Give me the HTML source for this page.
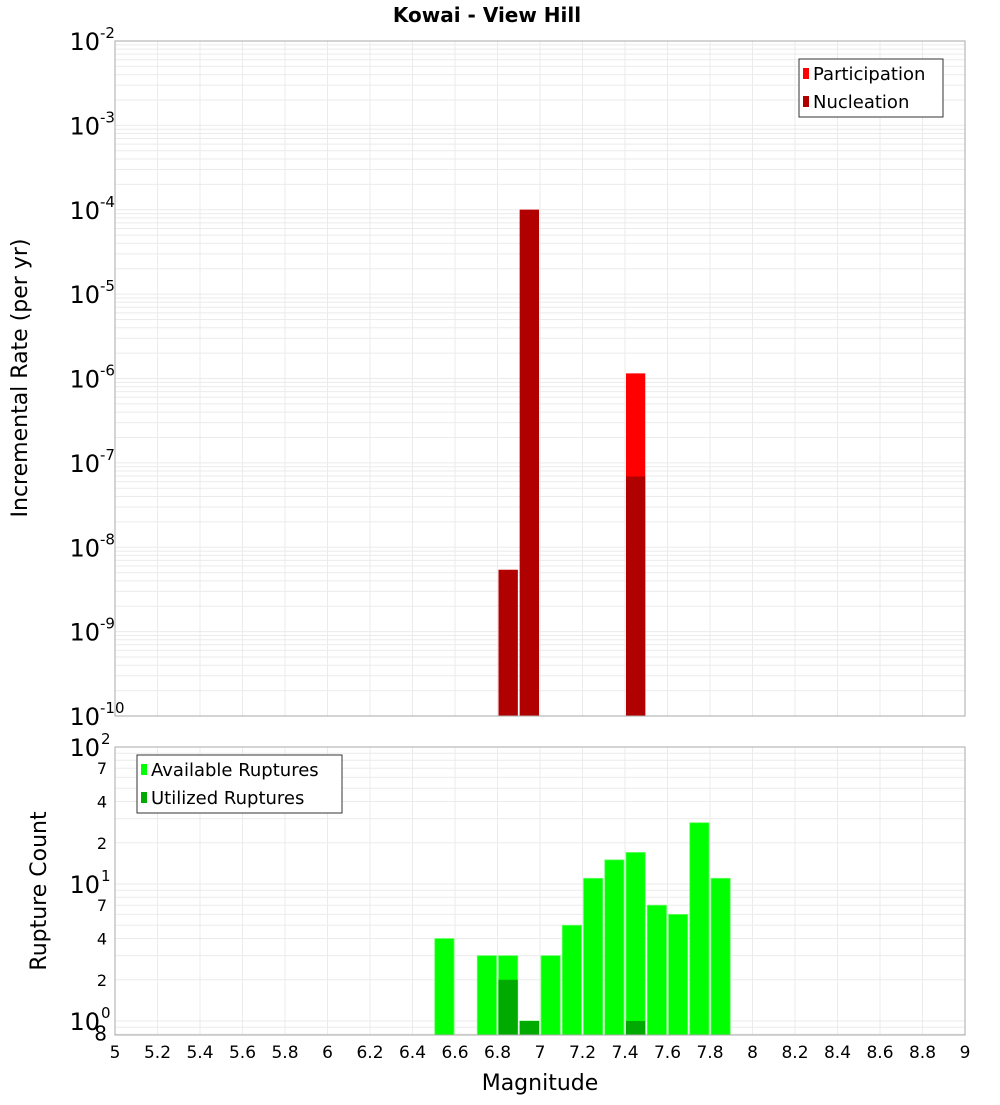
<!DOCTYPE html>
<html><head><meta charset="utf-8"><style>
body{margin:0;background:#fff;font-family:"Liberation Sans","DejaVu Sans",sans-serif}
svg text{font-family:"DejaVu Sans","Liberation Sans",sans-serif}
</style></head><body>
<svg id="c" width="1000" height="1100" xmlns="http://www.w3.org/2000/svg">
<rect width="1000" height="1100" fill="#fff"/>
<text x="487" y="22" font-size="20" font-weight="bold" text-anchor="middle">Kowai - View Hill</text>
<text transform="translate(27,378) rotate(-90)" font-size="22" text-anchor="middle">Incremental Rate (per yr)</text>
<text transform="translate(46,891) rotate(-90)" font-size="22" text-anchor="middle">Rupture Count</text>
<text x="540" y="1090" font-size="22" text-anchor="middle">Magnitude</text>
<g id="topPlot"></g>
<g id="botPlot"></g>
</svg>
<script>
const mags = [6.85, 6.95, 7.45];
const participation = [5.4e-9, 1.0e-4, 1.15e-6];
const nucleation = [5.4e-9, 1.0e-4, 6.9e-8];
const countMags = [6.55, 6.75, 6.85, 6.95, 7.05, 7.15, 7.25, 7.35, 7.45, 7.55, 7.65, 7.75, 7.85];
const available = [4, 3, 3, 1, 3, 5, 11, 15, 17, 7, 6, 28, 11];
const utilizedMags = [6.85, 6.95, 7.45];
const utilized = [2, 1, 1];
const xTicks = [5,5.2,5.4,5.6,5.8,6,6.2,6.4,6.6,6.8,7,7.2,7.4,7.6,7.8,8,8.2,8.4,8.6,8.8,9];
const topExps = [-2,-3,-4,-5,-6,-7,-8,-9,-10];

const NS='http://www.w3.org/2000/svg';
function mk(p,tag,a,txt){const e=document.createElementNS(NS,tag);for(const k in a)e.setAttribute(k,a[k]);if(txt!==undefined)e.textContent=txt;p.appendChild(e);return e;}
const PL=115,PR=965;
const xScale=m=>PL+(m-5)/4*(PR-PL);
const TT=41,TB=716;
const yTop=v=>TB-(Math.log10(v)+10)/8*(TB-TT);
const BT=747,BB=1035,DEC=137,ONE=1021;
const yBot=v=>ONE-Math.log10(v)*DEC;
const topG=document.getElementById('topPlot'),botG=document.getElementById('botPlot');

for(let e=-10;e<-2;e++)for(let k=1;k<10;k++){const y=yTop(k*Math.pow(10,e));
 const g=mk(topG,'line',{x1:PL,x2:PR,y1:y,y2:y,stroke:'#ebebeb','stroke-width':1});
 
 }
for(let e=-1;e<2;e++)for(let k=1;k<10;k++){const v=k*Math.pow(10,e);const y=yBot(v);if(y>BB||y<BT)continue;
 const g=mk(botG,'line',{x1:PL,x2:PR,y1:y,y2:y,stroke:'#ebebeb','stroke-width':1});
 
 }
xTicks.forEach(t=>{const x=xScale(t);
 [[TT,TB,topG],[BT,BB,botG]].forEach(([a,b,p])=>{const g=mk(p,'line',{x1:x,x2:x,y1:a,y2:b,stroke:'#ebebeb','stroke-width':1});
 
 });
 const lab=mk(botG,'text',{x:x,y:1058,'font-size':17,'text-anchor':'middle'},String(t));
 
 
});
const bw=0.1*(PR-PL)/4;
mags.forEach((m,i)=>{const x=xScale(m)-bw/2+1;
 const p=mk(topG,'rect',{x:x,y:yTop(participation[i]),width:bw-2,height:TB-yTop(participation[i]),fill:'#ff0000'});
 
 
 const n=mk(topG,'rect',{x:x,y:yTop(nucleation[i]),width:bw-2,height:TB-yTop(nucleation[i]),fill:'#b00000'});
 
 
});
countMags.forEach((m,i)=>{const x=xScale(m)-bw/2+1;const y=yBot(available[i]);
 const b=mk(botG,'rect',{x:x,y:y,width:bw-2,height:BB-y,fill:'#00ff00',stroke:'#66ff66','stroke-width':0.8});
 
 });
utilizedMags.forEach((m,i)=>{const x=xScale(m)-bw/2+1;const y=yBot(utilized[i]);
 const b=mk(botG,'rect',{x:x,y:y,width:bw-2,height:BB-y,fill:'#00aa00'});
 
 });
[[TT,TB,topG],[BT,BB,botG]].forEach(([a,b,p])=>{const f=mk(p,'rect',{x:PL,y:a,width:PR-PL,height:b-a,fill:'none',stroke:'#aaaaaa','stroke-width':1});
 
 });
topExps.forEach(e=>{const y=yTop(Math.pow(10,e));
 const t=mk(topG,'text',{x:100,y:y+9,'font-size':24,'text-anchor':'end'},'10');
 
 
 const s=mk(topG,'text',{x:100,y:y-3,'font-size':15},String(e));
 
 });
[[100,'10','2'],[10,'10','1'],[1,'10','0']].forEach(([v,b,s])=>{const y=yBot(v);
 const t=mk(botG,'text',{x:100,y:y+9,'font-size':24,'text-anchor':'end'},b);
 
 
 const u=mk(botG,'text',{x:101,y:y-3,'font-size':15},s);
 
 });
[70,40,20,7,4,2,0.8].forEach(v=>{const y=yBot(v);
 const t=mk(botG,'text',{x:107,y:y+6,'font-size':v==0.8?20:16,'text-anchor':'end'},String(v>=10?v/10:v==0.8?8:v));
 
 });
function legend(p,x,y,w,h,items){const g=mk(p,'g',{});
 
 
 mk(g,'rect',{x:x,y:y,width:w,height:h,fill:'#fff',stroke:'#333','stroke-width':1});
 items.forEach(([c,l],i)=>{const r=mk(g,'rect',{x:x+4,y:y+9+i*28,width:6,height:11,fill:c});
  
  
  const t=mk(g,'text',{x:x+14,y:y+21+i*28,'font-size':18},l);
  
  });}
legend(topG,799,59,144,58,[['#ff0000','Participation'],['#b00000','Nucleation']]);
legend(botG,137,755,205,58,[['#00ff00','Available Ruptures'],['#00aa00','Utilized Ruptures']]);
</script>
</body></html>
